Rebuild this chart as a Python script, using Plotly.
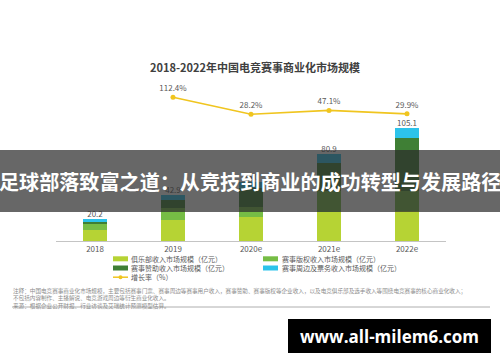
import plotly.graph_objects as go

# ---- data ----
years = ["2018", "2019", "2020e", "2021e", "2022e"]
club = [10.5, 19.7, 22.3, 27.0, 28.0]          # 俱乐部收入
copyright_ = [5.0, 11.2, 9.5, 20.0, 18.6]      # 赛事版权收入
sponsor = [3.0, 7.4, 18.0, 25.5, 49.2]         # 赛事赞助收入
periph = [1.7, 4.6, 5.2, 8.4, 9.3]             # 赛事周边及票务收入
totals = [20.2, 42.9, 55.0, 80.9, 105.1]
growth_years = ["2019", "2020e", "2021e", "2022e"]
growth = [112.4, 28.2, 47.1, 29.9]

series_names = ["俱乐部收入市场规模（亿元）", "赛事版权收入市场规模（亿元）",
                "赛事赞助收入市场规模（亿元）", "赛事周边及票务收入市场规模（亿元）"]
growth_name = "增长率（%）"
colors = ["#b6d334", "#76bd45", "#3f7f35", "#2cc3ea"]
line_color = "#f0c51f"

title = "2018-2022年中国电竞赛事商业化市场规模"
notes = ["注释：中国电竞赛事商业化市场规模，主要包括赛事门票、赛事周边等赛事用户收入，赛事赞助、赛事版权等企业收入，以及电竞俱乐部及选手收入等围绕电竞赛事的核心商业化收入；",
         "不包括内容制作、主播解说、电竞游戏周边等衍生商业化收入。",
         "来源：根据企业公开财报、行业访谈及艾瑞统计预测模型估算。"]
banner = "足球部落致富之道：从竞技到商业的成功转型与发展路径"
watermark = "www.all-milem6.com"

FONT = "Noto Sans CJK SC, Noto Sans, sans-serif"
W, H = 500, 362
L, R, T, B = 56, 446, 80, 241


def px(x):
    return (x - L) / (R - L)


def py(y):
    return (B - y) / (B - T)


fig = go.Figure()
for vals, name, c in zip([club, copyright_, sponsor, periph], series_names, colors):
    fig.add_trace(go.Bar(x=years, y=vals, name=name, marker=dict(color=c, line=dict(width=0)),
                         hoverinfo="skip"))

fig.add_trace(go.Scatter(x=years, y=totals, mode="text", text=[f"{v:.1f}" for v in totals],
                         textposition="top center", textfont=dict(size=8, color="#595959", family=FONT),
                         hoverinfo="skip", showlegend=False))

fig.add_trace(go.Scatter(x=growth_years, y=growth, yaxis="y2", mode="lines+markers+text",
                         name=growth_name, text=[f"{v:.1f}%" for v in growth],
                         textposition="top center",
                         textfont=dict(size=8, color="#595959", family=FONT),
                         line=dict(color=line_color, width=1.6),
                         marker=dict(size=5, color=line_color), hoverinfo="skip"))

shapes = []
ann = []

# title
ann.append(dict(x=px(255.5), y=py(66.5), xref="paper", yref="paper", text=f"<b>{title}</b>",
                showarrow=False, font=dict(size=11, color="#404040", family=FONT),
                xanchor="center", yanchor="middle"))

# custom legend
rows = [258.8, 268, 277.2]
cols_sym = [(113, 128), (263, 278)]
cols_txt = [130, 281]
items = [(0, 0), (0, 1), (1, 0), (1, 1)]
for i, (r, cidx) in enumerate(items):
    x0, x1 = cols_sym[cidx]
    yc = rows[r]
    shapes.append(dict(type="rect", xref="paper", yref="paper", x0=px(x0), x1=px(x1),
                       y0=py(yc + 2.5), y1=py(yc - 2.5), fillcolor=colors[i], line=dict(width=0)))
    ann.append(dict(x=px(cols_txt[cidx]), y=py(yc), xref="paper", yref="paper", text=series_names[i],
                    showarrow=False, font=dict(size=7, color="#595959", family=FONT),
                    xanchor="left", yanchor="middle", borderpad=0))
yc = rows[2]
shapes.append(dict(type="line", xref="paper", yref="paper", x0=px(113), x1=px(128), y0=py(yc), y1=py(yc),
                   line=dict(color=line_color, width=1.5)))
shapes.append(dict(type="circle", xref="paper", yref="paper", x0=px(118.5), x1=px(122.5),
                   y0=py(yc + 2), y1=py(yc - 2), fillcolor=line_color, line=dict(width=0)))
ann.append(dict(x=px(130), y=py(yc), xref="paper", yref="paper", text=growth_name, showarrow=False,
                font=dict(size=7, color="#595959", family=FONT), xanchor="left", yanchor="middle",
                borderpad=0))

# footnotes (single block)
ann.append(dict(x=px(12), y=py(286), xref="paper", yref="paper", text="<br>".join(notes), showarrow=False,
                font=dict(size=5.6, color="#8c8c8c", family=FONT), xanchor="left", yanchor="top",
                align="left", borderpad=0))
shapes.append(dict(type="line", xref="paper", yref="paper", x0=px(12), x1=px(490), y0=py(307), y1=py(307),
                   line=dict(color="#9a9a9a", width=0.8)))

# banner overlay
shapes.append(dict(type="rect", xref="paper", yref="paper", x0=px(0), x1=px(500), y0=py(212), y1=py(150),
                   fillcolor="rgba(45,45,45,0.72)", line=dict(width=0), layer="above"))
ann.append(dict(x=px(250), y=py(181), xref="paper", yref="paper", text=f"<b>{banner}</b>", showarrow=False,
                font=dict(size=20.1, color="white", family=FONT), xanchor="center", yanchor="middle"))

# watermark
shapes.append(dict(type="rect", xref="paper", yref="paper", x0=px(288), x1=px(491), y0=py(353), y1=py(319),
                   fillcolor="black", line=dict(width=0), layer="above"))
ann.append(dict(x=px(389.5), y=py(336), xref="paper", yref="paper", text=f"<b>{watermark}</b>",
                showarrow=False, font=dict(size=17, color="white", family="Open Sans, sans-serif"),
                xanchor="center", yanchor="middle"))

fig.update_layout(
    width=W, height=H,
    margin=dict(l=L, r=W - R, t=T, b=H - B, pad=0),
    paper_bgcolor="white", plot_bgcolor="white",
    barmode="stack", bargap=0.68,
    showlegend=False,
    font=dict(family=FONT, color="#595959"),
    xaxis=dict(type="category", range=[-0.5, 4.5], showline=True, linecolor="#c4c4c4", linewidth=1,
               showgrid=False, ticks="", tickfont=dict(size=8, color="#595959"), zeroline=False,
               fixedrange=True),
    yaxis=dict(range=[0, 150], visible=False, showgrid=False, zeroline=False, fixedrange=True),
    yaxis2=dict(range=[-601, 198], overlaying="y", visible=False, showgrid=False, zeroline=False,
                fixedrange=True),
    shapes=shapes, annotations=ann,
)

fig.write_html("out.html", config={"displayModeBar": False},
               post_script="document.body.style.margin='0';document.body.style.overflow='hidden';")
